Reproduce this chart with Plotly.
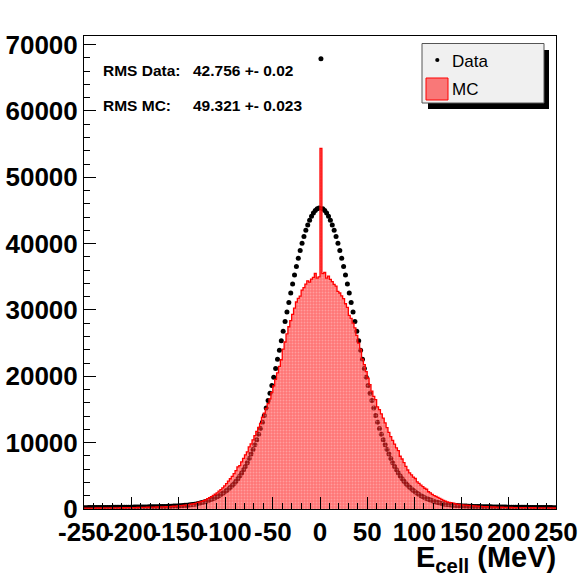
import numpy as np
import plotly.graph_objects as go

# Cell energy histogram: 2 MeV bins from -250 to 250 MeV
BIN_LO, BIN_HI, BIN_W = -250, 250, 2

# Data counts, bins from -250 to 0 MeV
DATA_NEG = [
    202, 205, 208, 210, 213, 216, 219, 222, 225, 228,
    231, 234, 237, 240, 244, 247, 250, 254, 257, 261,
    264, 268, 272, 275, 279, 282, 287, 291, 296, 300,
    305, 310, 315, 320, 325, 330, 335, 340, 347, 356,
    366, 375, 385, 395, 406, 416, 427, 439, 450, 462,
    483, 506, 530, 555, 581, 609, 638, 668, 700, 760,
    825, 890, 970, 1050, 1140, 1240, 1340, 1460, 1580, 1710,
    1860, 2010, 2180, 2370, 2570, 2780, 3020, 3270, 3550, 3860,
    4200, 4570, 4980, 5420, 5900, 6420, 6990, 7610, 8290, 8980,
    9680, 10440, 11260, 12140, 13090, 14110, 15220, 16340, 17430, 18600,
    19850, 21180, 22560, 23930, 25370, 26810, 28260, 29710, 31140, 32550,
    33930, 35270, 36570, 37800, 38970, 40060, 41080, 42000, 42820, 43530,
    44140, 44630, 45010, 45260, 45370,
]
# Data counts, bins from 0 to 250 MeV
DATA_POS = [
    67870, 45260, 45010, 44630, 44140, 43530, 42820, 42000, 41080, 40060,
    38970, 37800, 36570, 35270, 33930, 32550, 31140, 29710, 28260, 26810,
    25370, 23930, 22560, 21180, 19850, 18600, 17430, 16340, 15220, 14110,
    13090, 12140, 11260, 10440, 9680, 8980, 8290, 7610, 6990, 6420,
    5900, 5420, 4980, 4570, 4200, 3860, 3550, 3270, 3020, 2780,
    2570, 2370, 2180, 2010, 1860, 1710, 1580, 1460, 1340, 1240,
    1140, 1050, 970, 890, 825, 760, 700, 668, 638, 609,
    581, 555, 530, 506, 483, 462, 450, 439, 427, 416,
    406, 395, 385, 375, 366, 356, 347, 340, 335, 330,
    325, 320, 315, 310, 305, 300, 296, 291, 287, 282,
    279, 275, 272, 268, 264, 261, 257, 254, 250, 247,
    244, 240, 237, 234, 231, 228, 225, 222, 219, 216,
    213, 210, 208, 205, 202,
]
# MC counts, bins from -250 to 0 MeV
MC_NEG = [
    131, 134, 137, 140, 143, 145, 148, 151, 154, 157,
    159, 162, 165, 168, 171, 173, 176, 179, 182, 185,
    187, 190, 193, 196, 199, 204, 211, 219, 226, 234,
    241, 249, 256, 264, 271, 279, 286, 294, 301, 309,
    316, 324, 331, 339, 346, 363, 389, 416, 442, 468,
    495, 521, 547, 582, 625, 669, 713, 756, 800, 890,
    980, 1070, 1160, 1250, 1380, 1550, 1720, 1880, 2050, 2220,
    2430, 2680, 2930, 3180, 3480, 3840, 4200, 4560, 4920, 5320,
    5770, 6350, 6550, 7100, 7630, 8170, 8600, 9350, 9810, 10430,
    11060, 11680, 12300, 12900, 13850, 14450, 15170, 15880, 16600, 17580,
    18560, 19540, 20520, 21500, 22500, 24100, 25170, 26390, 27470, 28400,
    29330, 30270, 31200, 31740, 32100, 33000, 33360, 33900, 34400, 34200,
    34660, 34910, 35500, 34800, 35000,
]
# MC counts, bins from 0 to 250 MeV
MC_POS = [
    54360, 35480, 35650, 34800, 35100, 34610, 34280, 33850, 33600, 32800,
    32560, 32130, 31700, 30940, 30400, 29200, 28730, 28010, 27300, 26160,
    25010, 24100, 22600, 21750, 20720, 19720, 18750, 17780, 16970, 16500,
    15400, 14980, 14340, 13700, 12990, 12270, 11560, 10920, 10350, 9780,
    9220, 8800, 7950, 7540, 6990, 6430, 5880, 5440, 5130, 4810,
    4600, 4100, 3860, 3590, 3360, 3130, 2980, 2600, 2440, 2210,
    2030, 1890, 1740, 1600, 1460, 1310, 1170, 1070, 1000, 940,
    875, 810, 746, 682, 639, 617, 594, 572, 550, 528,
    506, 483, 461, 439, 417, 394, 372, 350, 340, 331,
    321, 312, 302, 292, 283, 273, 263, 254, 244, 235,
    228, 225, 222, 219, 215, 212, 209, 206, 203, 199,
    196, 193, 190, 187, 183, 180, 177, 174, 171, 167,
    164, 161, 158, 155, 151,
]

X_TICKS = [-250, -200, -150, -100, -50, 0, 50, 100, 150, 200, 250]
X_TICK_TEXT = ["-250", "-200", "-150", "-100", "-50", "0", "50", "100", "150", "200", "250"]
Y_TICKS = [0, 10000, 20000, 30000, 40000, 50000, 60000, 70000]
Y_TICK_TEXT = ["0", "10000", "20000", "30000", "40000", "50000", "60000", "70000"]
Y_MAX = 71300

RMS_LABELS = ["RMS Data:", "RMS MC:"]
RMS_VALUES = ["42.756 +- 0.02", "49.321 +- 0.023"]
LEGEND_NAMES = ["Data", "MC"]
X_TITLE = "E<sub>cell</sub> (MeV)"

data = np.array(DATA_NEG + DATA_POS, dtype=float)
mc = np.array(MC_NEG + MC_POS, dtype=float)
edges = np.arange(BIN_LO, BIN_HI + BIN_W, BIN_W)
centers = edges[:-1] + BIN_W / 2
assert len(data) == len(centers) and len(mc) == len(centers)

FONT = "Liberation Sans, Arial, sans-serif"
W, H = 583, 584
ML, MR, MT, MB = 84, 27, 36, 75
PW, PH = W - ML - MR, H - MT - MB


def px(x):
    return (x - ML) / PW


def py(y):
    return (H - MB - y) / PH


fig = go.Figure()

# data points
fig.add_trace(go.Scatter(
    x=centers, y=data, mode="markers",
    marker=dict(color="black", size=5, line=dict(width=0)),
    showlegend=False, hoverinfo="skip",
))

# MC histogram as a filled step outline, drawn over the data points
step_x = np.append(edges[:-1], edges[-1])
step_y = np.append(mc, mc[-1])
fig.add_trace(go.Scatter(
    x=step_x, y=step_y, mode="lines", line_shape="hv",
    line=dict(color="#ff0000", width=1.3),
    fill="tozeroy",
    fillpattern=dict(shape=".", size=3, solidity=0.3,
                     fgcolor="rgba(255,235,235,0.7)", bgcolor="rgba(255,25,25,0.6)"),
    showlegend=False, hoverinfo="skip",
))

shapes = []
annotations = []

# legend box with drop shadow
shapes.append(dict(type="rect", xref="paper", yref="paper",
                   x0=px(428), x1=px(549), y0=py(109), y1=py(50),
                   fillcolor="black", line=dict(width=0)))
shapes.append(dict(type="rect", xref="paper", yref="paper",
                   x0=px(422), x1=px(544), y0=py(103), y1=py(43.5),
                   fillcolor="#f0f0f0", line=dict(color="#555555", width=1)))
shapes.append(dict(type="circle", xref="paper", yref="paper",
                   x0=px(435.2), x1=px(439.4), y0=py(62.1), y1=py(57.9),
                   fillcolor="black", line=dict(width=0)))
shapes.append(dict(type="rect", xref="paper", yref="paper",
                   x0=px(426), x1=px(448), y0=py(100), y1=py(78),
                   fillcolor="rgba(255,40,40,0.6)", line=dict(color="#ff0000", width=1)))
for name, yc in zip(LEGEND_NAMES, [61, 90]):
    annotations.append(dict(text=name, xref="paper", yref="paper",
                            x=px(450), y=py(yc), xanchor="left", yanchor="middle",
                            showarrow=False, font=dict(family=FONT, size=17, color="black")))

# RMS statistics text
for lab, val, yc in zip(RMS_LABELS, RMS_VALUES, [70, 105.5]):
    annotations.append(dict(text=lab, xref="paper", yref="paper",
                            x=px(100.5), y=py(yc), xanchor="left", yanchor="middle",
                            showarrow=False,
                            font=dict(family=FONT, size=15.5, color="black", weight="bold")))
    annotations.append(dict(text=val, xref="paper", yref="paper",
                            x=px(190.5), y=py(yc), xanchor="left", yanchor="middle",
                            showarrow=False,
                            font=dict(family=FONT, size=15.5, color="black", weight="bold")))

# x-axis title
annotations.append(dict(text=X_TITLE, xref="paper", yref="paper",
                        x=px(558), y=py(559), xanchor="right", yanchor="middle",
                        showarrow=False,
                        font=dict(family=FONT, size=29, color="black", weight="bold")))

axis_common = dict(
    showgrid=False, zeroline=False, showline=True, linecolor="black", linewidth=1,
    mirror=True, ticks="inside", ticklen=12, tickwidth=1, tickcolor="black",
    automargin=False,
    tickfont=dict(family=FONT, size=26, color="black", weight="bold"),
)

fig.update_layout(
    width=W, height=H,
    margin=dict(l=ML, r=MR, t=MT, b=MB),
    paper_bgcolor="white", plot_bgcolor="white",
    xaxis=dict(range=[BIN_LO, BIN_HI], tickmode="array", tickvals=X_TICKS,
               ticktext=X_TICK_TEXT, tickangle=0,
               minor=dict(ticks="inside", ticklen=6, tickmode="linear", tick0=BIN_LO,
                          dtick=10, tickcolor="black", tickwidth=1),
               **axis_common),
    yaxis=dict(range=[0, Y_MAX], tickmode="array", tickvals=Y_TICKS,
               ticktext=Y_TICK_TEXT, ticklabelstandoff=0,
               minor=dict(ticks="inside", ticklen=6, tickmode="linear", tick0=0,
                          dtick=2000, tickcolor="black", tickwidth=1),
               **axis_common),
    shapes=shapes,
    annotations=annotations,
    showlegend=False,
)

fig.write_html("out.html")
